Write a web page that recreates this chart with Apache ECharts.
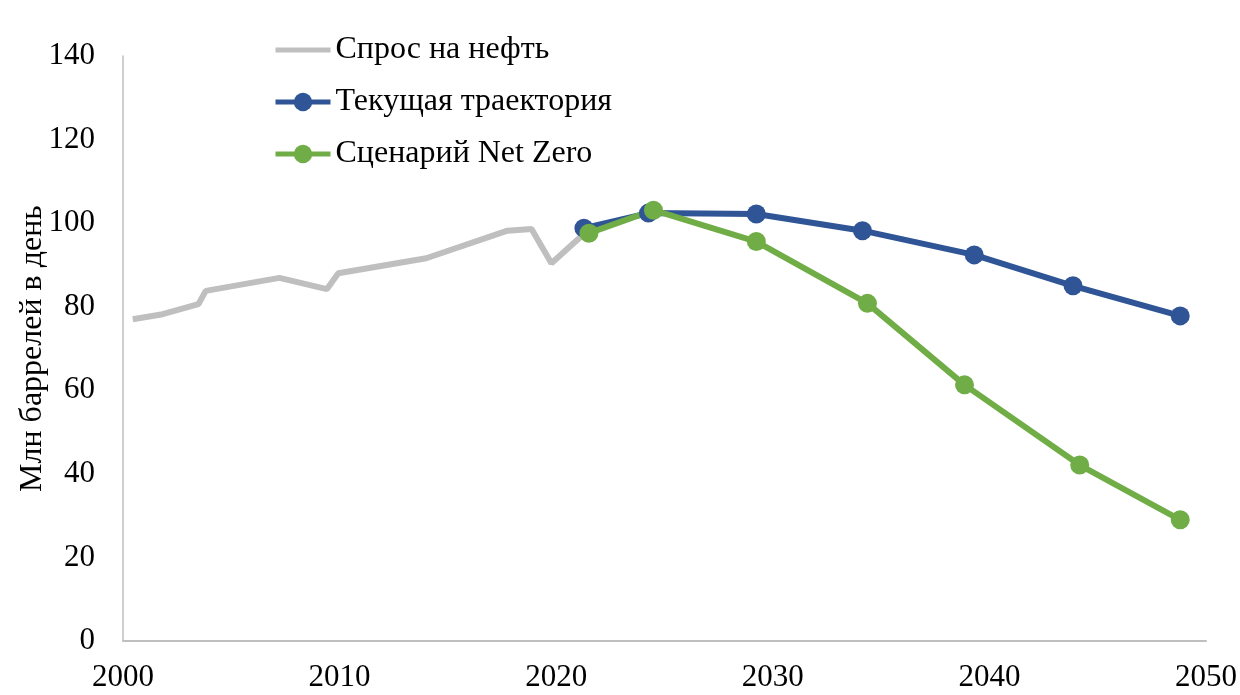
<!DOCTYPE html>
<html>
<head>
<meta charset="utf-8">
<script src="https://cdn.jsdelivr.net/npm/echarts@6/dist/echarts.min.js"></script>
<style>
  html, body { margin: 0; padding: 0; background: #fff; }
  #chart { width: 1240px; height: 695px; }
</style>
</head>
<body>
<div id="chart"></div>
<script>
// значения (год, млн баррелей в день)
var demandYears = [2000.45, 2001.83, 2003.48, 2003.82, 2007.22, 2009.41, 2009.94, 2014.0, 2017.75, 2018.86, 2019.78, 2021.12];
var demandValues = [77.0, 78.2, 80.6, 83.8, 86.9, 84.2, 88.0, 91.6, 98.2, 98.6, 90.4, 96.7];

var currentYears = [2021.28, 2024.26, 2029.24, 2034.14, 2039.3, 2043.86, 2048.81];
var currentValues = [98.8, 102.4, 102.2, 98.2, 92.4, 85.0, 77.8];

var netZeroYears = [2021.51, 2024.49, 2029.24, 2034.37, 2038.85, 2044.17, 2048.81];
var netZeroValues = [97.6, 103.1, 95.6, 80.8, 61.3, 42.1, 29.0];

var seriesNames = ["Спрос на нефть", "Текущая траектория", "Сценарий Net Zero"];

function pairs(xs, ys) {
  return xs.map(function (x, i) { return [x, ys[i]]; });
}

var font = "'Liberation Serif', 'Times New Roman', serif";
var chart = echarts.init(document.getElementById("chart"));

chart.setOption({
  animation: false,
  textStyle: { fontFamily: font },
  grid: { left: 123, right: 28, top: 56, bottom: 54 },
  legend: {
    orient: "vertical",
    left: 268,
    top: 29,
    itemWidth: 55,
    itemHeight: 23,
    itemGap: 20,
    lineStyle: { width: 5 },
    textStyle: { fontFamily: font, fontSize: 32, color: "#000", lineHeight: 32 },
    data: [
      // у серого ряда в легенде только линия, без маркера
      { name: seriesNames[0], icon: "path://M0,0 L55,0 L55,5 L0,5 Z" },
      seriesNames[1],
      seriesNames[2]
    ]
  },
  xAxis: {
    type: "value",
    min: 2000,
    max: 2050,
    interval: 10,
    splitLine: { show: false },
    axisTick: { show: false },
    axisLine: { lineStyle: { color: "#bfbfbf", width: 2 } },
    axisLabel: {
      fontFamily: font, fontSize: 31, color: "#000", margin: 21,
      formatter: function (v) { return String(v); }
    }
  },
  yAxis: {
    type: "value",
    min: 0,
    max: 140,
    interval: 20,
    name: "Млн баррелей в день",
    nameLocation: "middle",
    nameGap: 74,
    nameMoveOverlap: false,
    nameTextStyle: { fontFamily: font, fontSize: 32, color: "#000" },
    splitLine: { show: false },
    axisTick: { show: false },
    axisLine: { show: true, lineStyle: { color: "#bfbfbf", width: 1.5 } },
    axisLabel: { fontFamily: font, fontSize: 31, color: "#000", margin: 28 }
  },
  series: [
    {
      name: seriesNames[0],
      type: "line",
      data: pairs(demandYears, demandValues),
      symbol: "none",
      itemStyle: { color: "#bfbfbf" },
      lineStyle: { color: "#bfbfbf", width: 6 }
    },
    {
      name: seriesNames[1],
      type: "line",
      data: pairs(currentYears, currentValues),
      symbol: "circle",
      symbolSize: 19,
      itemStyle: { color: "#2f5597" },
      lineStyle: { color: "#2f5597", width: 6 }
    },
    {
      name: seriesNames[2],
      type: "line",
      data: pairs(netZeroYears, netZeroValues),
      symbol: "circle",
      symbolSize: 19,
      itemStyle: { color: "#70ad47" },
      lineStyle: { color: "#70ad47", width: 6 }
    }
  ]
});
</script>
</body>
</html>
